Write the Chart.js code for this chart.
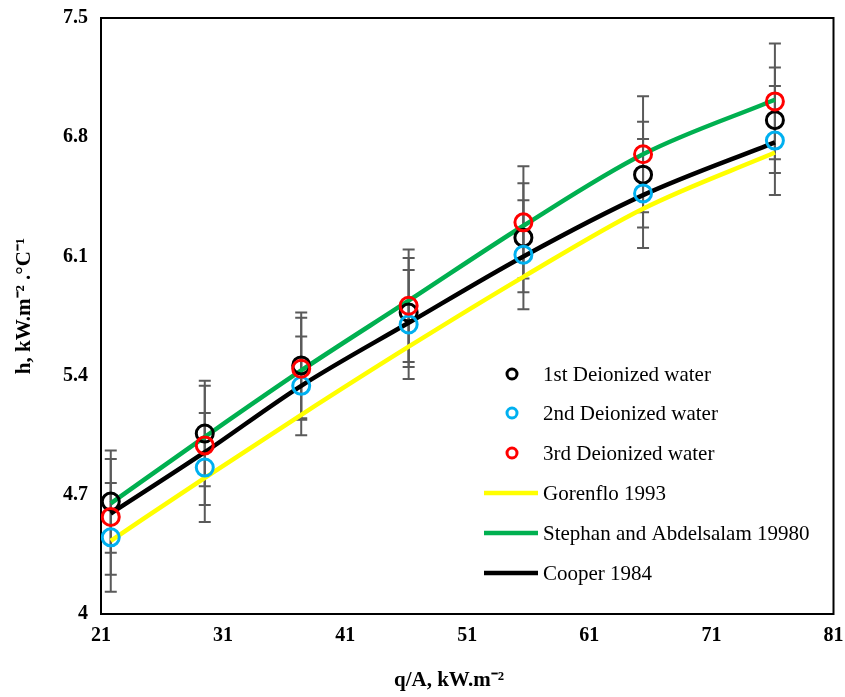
<!DOCTYPE html>
<html>
<head>
<meta charset="utf-8">
<script src="https://cdn.jsdelivr.net/npm/chart.js@4.4.1/dist/chart.umd.min.js"></script>
<style>
    html, body { margin: 0; padding: 0; background: #fff; }
    canvas { display: block; }
</style>
</head>
<body>
<canvas id="boilingChart" width="845" height="697"></canvas>
<script>
// heat flux q/A, kW/m2
const heatFlux = [21.8, 29.5, 37.4, 46.2, 55.6, 65.4, 76.2];

// measured h for the three runs
const run1 = [4.66, 5.06, 5.46, 5.77, 6.21, 6.58, 6.90];
const run2 = [4.45, 4.86, 5.34, 5.70, 6.11, 6.47, 6.78];
const run3 = [4.57, 4.99, 5.44, 5.81, 6.30, 6.70, 7.01];

// error bars (+/-)
const err1 = [0.30, 0.31, 0.31, 0.32, 0.32, 0.31, 0.31];
const err2 = [0.32, 0.32, 0.29, 0.32, 0.32, 0.32, 0.32];
const err3 = [0.34, 0.35, 0.30, 0.33, 0.33, 0.34, 0.34];

// correlations
const gorenflo = [4.43, 4.80, 5.17, 5.57, 5.98, 6.38, 6.71];
const stephan = [4.65, 5.04, 5.43, 5.84, 6.28, 6.70, 7.02];
const cooper = [4.59, 4.95, 5.34, 5.71, 6.10, 6.46, 6.77];

const xTicks = [21, 31, 41, 51, 61, 71, 81];
const yTicks = [4, 4.7, 5.4, 6.1, 6.8, 7.5];

const serif = '"Liberation Serif", "Times New Roman", serif';

function toPoints(ys) {
    return heatFlux.map((x, i) => ({ x: x, y: ys[i] }));
}

function markerSet(label, ys, errs, color, order) {
    return {
        label: label,
        data: toPoints(ys),
        errors: errs,
        showLine: false,
        pointRadius: 8.5,
        pointHoverRadius: 8.5,
        pointBorderWidth: 3,
        pointBackgroundColor: 'rgba(0,0,0,0)',
        borderColor: color,
        pointBorderColor: color,
        order: order
    };
}

function curveSet(label, ys, color, order) {
    return {
        label: label,
        data: toPoints(ys),
        showLine: true,
        borderColor: color,
        borderWidth: 4.5,
        pointRadius: 0,
        cubicInterpolationMode: 'monotone',
        order: order
    };
}

const framePlugin = {
    id: 'frame',
    beforeDatasetsDraw(chart) {
        const { ctx, chartArea: a } = chart;
        ctx.save();
        ctx.strokeStyle = '#000';
        ctx.lineWidth = 2;
        ctx.strokeRect(a.left, a.top, a.right - a.left, a.bottom - a.top);
        ctx.restore();

        // error bars
        const xs = chart.scales.x, ys = chart.scales.y;
        ctx.save();
        ctx.strokeStyle = '#5a5a5a';
        ctx.lineWidth = 2;
        chart.data.datasets.forEach(ds => {
            if (!ds.errors) return;
            ds.data.forEach((p, i) => {
                const px = xs.getPixelForValue(p.x);
                const top = ys.getPixelForValue(p.y + ds.errors[i]);
                const bot = ys.getPixelForValue(p.y - ds.errors[i]);
                ctx.beginPath();
                ctx.moveTo(px, top);
                ctx.lineTo(px, bot);
                ctx.moveTo(px - 6, top);
                ctx.lineTo(px + 6, top);
                ctx.moveTo(px - 6, bot);
                ctx.lineTo(px + 6, bot);
                ctx.stroke();
            });
        });
        ctx.restore();
    }
};

const legendRows = [374, 413, 453, 493, 533, 573];

const legendAndTitles = {
    id: 'legendAndTitles',
    afterDraw(chart) {
        const ctx = chart.ctx;
        ctx.save();
        ctx.font = '21px ' + serif;
        ctx.textBaseline = 'middle';
        ctx.textAlign = 'left';
        chart.data.datasets.forEach((ds, i) => {
            const y = legendRows[i];
            if (ds.showLine) {
                ctx.strokeStyle = ds.borderColor;
                ctx.lineWidth = 4.5;
                ctx.beginPath();
                ctx.moveTo(484, y);
                ctx.lineTo(538, y);
                ctx.stroke();
            } else {
                ctx.strokeStyle = ds.borderColor;
                ctx.lineWidth = 3;
                ctx.beginPath();
                ctx.arc(512, y, 5, 0, Math.PI * 2);
                ctx.stroke();
            }
            ctx.fillStyle = '#000';
            ctx.fillText(ds.label, 543, y + 1);
        });

        // axis titles
        ctx.font = 'bold 21px ' + serif;
        ctx.textAlign = 'center';
        ctx.fillText('q/A, kW.m\u207B\u00B2', 449, 681);
        ctx.translate(25, 306);
        ctx.rotate(-Math.PI / 2);
        ctx.fillText('h, kW.m\u207B\u00B2 .\u00B0C\u207B\u00B9', 0, 0);
        ctx.restore();
    }
};

new Chart(document.getElementById('boilingChart').getContext('2d'), {
    type: 'scatter',
    data: {
        datasets: [
            markerSet('1st Deionized water', run1, err1, '#000000', 2),
            markerSet('2nd Deionized water', run2, err2, '#00B0F0', 1),
            markerSet('3rd Deionized water', run3, err3, '#FF0000', 0),
            curveSet('Gorenflo 1993', gorenflo, '#FFFF00', 5),
            curveSet('Stephan and Abdelsalam 19980', stephan, '#00B050', 4),
            curveSet('Cooper 1984', cooper, '#000000', 3)
        ]
    },
    options: {
        responsive: false,
        animation: false,
        layout: { padding: 0 },
        plugins: {
            legend: { display: false },
            tooltip: { enabled: false }
        },
        scales: {
            x: {
                type: 'linear',
                min: 21,
                max: 81,
                afterBuildTicks: s => { s.ticks = xTicks.map(v => ({ value: v })); },
                afterFit: s => { s.height = 83; },
                grid: { display: false, drawTicks: false },
                border: { display: false },
                ticks: {
                    autoSkip: false,
                    maxRotation: 0,
                    padding: 1,
                    color: '#000',
                    font: { family: serif, size: 20, weight: 'bold', lineHeight: 2.1 }
                }
            },
            y: {
                type: 'linear',
                min: 4,
                max: 7.5,
                afterBuildTicks: s => { s.ticks = yTicks.map(v => ({ value: v })); },
                afterFit: s => { s.width = 101; },
                grid: { display: false, drawTicks: false },
                border: { display: false },
                ticks: {
                    padding: 13,
                    color: '#000',
                    font: { family: serif, size: 20, weight: 'bold', lineHeight: 0.5 },
                    callback: v => String(v)
                }
            }
        }
    },
    plugins: [framePlugin, legendAndTitles]
});
</script>
</body>
</html>
